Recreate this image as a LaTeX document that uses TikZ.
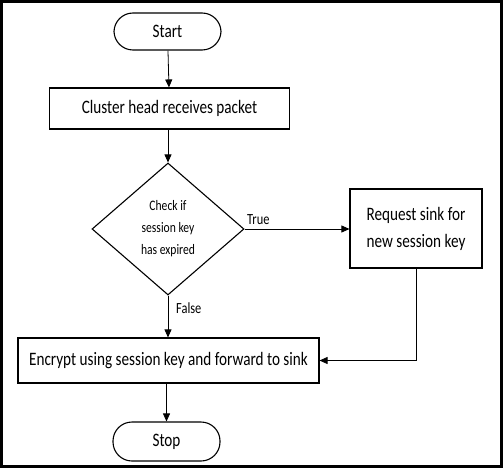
\documentclass[tikz,border=0pt]{standalone}
\usepackage{fontspec}
\setmainfont{Carlito}[FakeStretch=0.8]
\usetikzlibrary{shapes.geometric,arrows.meta}
\begin{document}
\begin{tikzpicture}[x=1pt,y=-1pt,
  box/.style={draw,line width=1.1pt,inner sep=0pt,font=\fontsize{19}{21}\selectfont},
  term/.style={draw,line width=1.1pt,rounded corners=19pt,inner sep=0pt,font=\fontsize{19}{21}\selectfont},
  dia/.style={draw,line width=1.1pt,diamond,inner sep=0pt},
  arr/.style={line width=0.8pt,-{Triangle[length=8pt,width=7pt]}},
  lbl/.style={font=\fontsize{15.5}{17}\selectfont,inner sep=0pt}]
\useasboundingbox (0,0) rectangle (503,468);
\draw[line width=3pt] (1.5,1.5) rectangle (501.5,466.5);
\node[term,minimum width=107pt,minimum height=37pt] (start) at (167.5,31.5) {Start};
\node[box,minimum width=240pt,minimum height=41pt] (recv) at (169.5,108.5) {Cluster head receives packet};
\node[dia,minimum width=152pt,minimum height=132pt] (chk) at (168,229) {};
\node[font=\fontsize{14.5}{22}\selectfont,align=center,inner sep=0pt] (chkt) at (chk.center) {Check if\\session key\\has expired};
\node[box,minimum width=132pt,minimum height=79pt,align=center,font=\fontsize{19}{27}\selectfont] (req) at (416,228.5) {Request sink for\\new session key};
\node[box,minimum width=301pt,minimum height=45pt] (enc) at (168.5,360.5) {Encrypt using session key and forward to sink};
\node[term,minimum width=107pt,minimum height=39pt] (stop) at (166.5,441.5) {Stop};
\coordinate (bend) at (req.south |- enc.east);
\draw[arr] (start) -- (recv);
\draw[arr] (recv.south -| chk.north) -- (chk.north);
\draw[arr] (chk.east) -- (req.west |- chk.east);
\draw[arr] (chk.south) -- (chk.south |- enc.north);
\draw[line width=0.8pt] (req.south) -- (bend);
\draw[arr] (bend) -- (enc.east);
\draw[arr] (enc.south -| stop.north) -- (stop.north);
\node[lbl,anchor=south west] (tl) at (247,225) {True};
\node[lbl,anchor=west] (fl) at (176,308) {False};
\end{tikzpicture}
\end{document}
